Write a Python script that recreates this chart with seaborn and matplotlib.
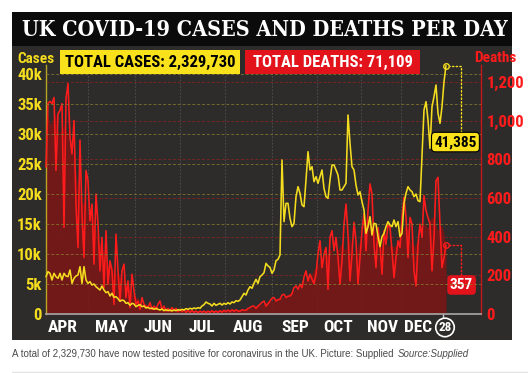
import numpy as np
import pandas as pd
import matplotlib
matplotlib.use("Agg")
import matplotlib.pyplot as plt
from matplotlib.patches import Rectangle
from matplotlib.lines import Line2D
import seaborn as sns

# ---------------- data (one value per ~2px step) ----------------
deaths = [
    760, 1090, 1100, 1088, 1120, 742, 1036, 1053, 1088, 448,
    1114, 1192, 915, 828, 1001, 569, 344, 900, 517, 292,
    742, 690, 482, 569, 258, 621, 465, 223, 396, 137,
    431, 154, 275, 223, 50, 413, 223, 67, 223, 258,
    85, 171, 33, 206, 119, 50, 67, 24, 85, 50,
    41, 33, 59, 24, 41, 24, 50, 67, 24, 41,
    15, 29, 15, 33, 19, 29, 12, 24, 12, 22,
    9, 19, 9, 19, 9, 15, 7, 15, 9, 15,
    7, 15, 9, 17, 9, 15, 9, 17, 10, 19,
    12, 21, 12, 22, 14, 22, 15, 15, 22, 19,
    19, 29, 33, 40, 41, 29, 41, 50, 60, 67,
    41, 53, 67, 81, 85, 67, 74, 76, 98, 102,
    85, 92, 93, 105, 136, 145, 128, 154, 136, 192,
    223, 171, 206, 180, 157, 206, 310, 379, 240, 310,
    344, 128, 396, 431, 327, 396, 292, 154, 275, 465,
    569, 413, 171, 310, 474, 379, 154, 292, 431, 517,
    327, 534, 673, 621, 361, 240, 448, 361, 206, 431,
    361, 465, 448, 327, 188, 292, 379, 344, 500, 604,
    500, 292, 500, 465, 223, 145, 361, 465, 396, 612,
    534, 500, 465, 223, 396, 690, 707, 465, 240, 292,
    357,
]
cases = [
    6222, 7054, 6778, 5667, 6778, 6222, 5944, 6778, 5667, 6778,
    6333, 6222, 7333, 5111, 5944, 6333, 6500, 7889, 5111, 7889,
    5667, 5111, 5389, 4833, 5000, 4555, 4278, 4000, 4667, 4000,
    3555, 3722, 3000, 3445, 2778, 2889, 2555, 2111, 2333, 2222,
    1778, 1889, 1444, 1778, 1667, 1222, 1444, 1555, 1222, 1333,
    1000, 1111, 889, 1000, 778, 944, 778, 667, 833, 555,
    722, 555, 667, 500, 667, 555, 722, 611, 778, 667,
    889, 778, 944, 833, 1000, 889, 1055, 944, 1333, 1555,
    2000, 1778, 1667, 1333, 1778, 1444, 1611, 1778, 1500, 1778,
    1611, 1889, 1667, 2000, 1889, 2222, 2111, 2333, 2889, 3445,
    3167, 4000, 4555, 4278, 5111, 5778, 5111, 6222, 6500, 6889,
    8445, 8000, 7778, 6778, 7333, 8889, 9111, 9833, 25667, 15389,
    18444, 18444, 15944, 14555, 15111, 19555, 21222, 20111, 18167, 17889,
    22333, 27055, 24000, 24555, 22055, 22889, 21778, 22889, 24000, 20944,
    19555, 19278, 22333, 24833, 24833, 24000, 23167, 20667, 20667, 21222,
    21778, 33167, 28444, 24555, 24000, 21500, 19833, 20389, 18722, 17333,
    13444, 14555, 16222, 13167, 15111, 15000, 12889, 11222, 12889, 13444,
    14555, 15389, 14833, 14555, 15667, 14555, 15389, 12889, 13444, 18444,
    20111, 21222, 20667, 20389, 19555, 20000, 18889, 18722, 26222, 34000,
    35389, 32333, 27611, 34555, 36222, 38167, 33445, 31778, 34555, 38722,
    41385,
]
month_labels = ["APR", "MAY", "JUN", "JUL", "AUG", "SEP", "OCT", "NOV", "DEC"]
month_pos = [8.5, 33, 56, 78, 101, 124.5, 146, 168.5, 186]
case_ticks = [0, 5000, 10000, 15000, 20000, 25000, 30000, 35000, 40000]
case_tick_labels = ["0", "5k", "10k", "15k", "20k", "25k", "30k", "35k", "40k"]
death_ticks = [0, 200, 400, 600, 800, 1000, 1200]
death_tick_labels = ["0", "200", "400", "600", "800", "1,000", "1,200"]
title = "UK COVID-19 CASES AND DEATHS PER DAY"
total_cases_text = "TOTAL CASES: 2,329,730"
total_deaths_text = "TOTAL DEATHS: 71,109"
last_day_label = "28"
caption = "A total of 2,329,730 have now tested positive for coronavirus in the UK. Picture: Supplied"
caption_source = "Source:Supplied"

# ---------------- style ----------------
sns.set_theme(style="ticks")
NARROW = ["Roboto Condensed", "Roboto", "DejaVu Sans"]
plt.rcParams["font.family"] = NARROW
YEL = "#f4dc1e"
YEL_BOX = "#f9e21b"
RED = "#ff1b1b"
RED_BOX = "#e3131b"
PANEL = "#2d2c2a"

W, H = 528, 373
fig = plt.figure(figsize=(W / 100, H / 100), dpi=100)
fig.patch.set_facecolor("white")

def fx(px):
    return px / W

def fy(py):
    return 1 - py / H

# dark panel + title bar
fig.add_artist(Rectangle((fx(12), fy(340)), fx(512) - fx(12), fy(46) - fy(340),
                         transform=fig.transFigure, fc=PANEL, ec="none", zorder=0))
fig.add_artist(Rectangle((fx(12), fy(46)), fx(512) - fx(12), fy(12) - fy(46),
                         transform=fig.transFigure, fc="#0b0b0b", ec="none", zorder=0))
fig.text(fx(265), fy(29.5), title, color="white", ha="center", va="center",
         fontsize=15.5, fontweight="bold", family=["DejaVu Serif"], fontstretch="condensed")

# axes: ax = deaths (right), ax2 = cases (left, drawn on top)
ax = fig.add_axes([fx(46), fy(314), fx(481) - fx(46), fy(65) - fy(314)])
ax.set_facecolor("none")
ax2 = ax.twinx()
ax2.set_facecolor("none")

idx = np.arange(len(deaths))
death_s = pd.Series(deaths, dtype=float)
smooth = death_s.rolling(7, center=True, min_periods=1).mean()

ax.fill_between(idx, 0, smooth, color="#7e1515", alpha=0.85, lw=0, zorder=1)
sns.lineplot(x=idx, y=deaths, ax=ax, color=RED, lw=1.15, zorder=3)
sns.lineplot(x=idx, y=cases, ax=ax2, color=YEL, lw=1.15, zorder=3)
for a in (ax, ax2):
    for ln in a.lines:
        ln.set_clip_on(False)

ax.set_xlim(0, 217.5)
ax.set_ylim(0, 1288)
ax2.set_ylim(0, 41500)

# ticks
ax.yaxis.tick_right()
ax2.yaxis.tick_left()
ax.set_yticks(death_ticks, death_tick_labels)
ax2.set_yticks(case_ticks, case_tick_labels)
ax.tick_params(axis="y", length=0, pad=4, labelsize=12, labelcolor=RED, right=True, left=False)
ax2.tick_params(axis="y", length=0, pad=3, labelsize=12, labelcolor=YEL, left=True, right=False)
for lab in ax.get_yticklabels() + ax2.get_yticklabels():
    lab.set_fontweight("bold")

ax.set_xticks(month_pos, month_labels)
ax.tick_params(axis="x", length=0, pad=4, labelsize=12.5, labelcolor="white")
for lab in ax.get_xticklabels():
    lab.set_fontweight("bold")
mids = [(a + b) / 2 for a, b in zip(month_pos[:-1], month_pos[1:])]
ax.set_xticks(mids, minor=True)
ax.tick_params(axis="x", which="minor", length=0)
ax.set_xlabel("")
ax.set_ylabel("")
ax2.set_ylabel("")

# grids
ax.grid(axis="y", color="#8a2222", ls=(0, (3, 2)), lw=0.7, alpha=0.8)
ax.grid(axis="x", which="minor", color="#6a6a6a", ls=(0, (2, 2)), lw=0.6, alpha=0.6)
ax.grid(axis="x", which="major", visible=False)
ax2.grid(axis="y", color="#8c7e2a", ls=(0, (3, 2)), lw=0.7, alpha=0.75)
ax.set_axisbelow(True)

# spines
for s in ax2.spines.values():
    s.set_visible(False)
ax.spines["top"].set_visible(False)
ax.spines["left"].set_color("#b7a526")
ax.spines["left"].set_linewidth(1.0)
ax.spines["right"].set_color("#c4161b")
ax.spines["right"].set_linewidth(1.0)
ax.spines["bottom"].set_color("#a8a8a8")
ax.spines["bottom"].set_linewidth(1.2)

# axis titles
fig.text(fx(36), fy(59), "Cases", color=YEL, ha="center", va="center",
         fontsize=11, fontweight="bold")
fig.text(fx(495), fy(58), "Deaths", color=RED, ha="center", va="center",
         fontsize=11, fontweight="bold")

# total boxes
fig.add_artist(Rectangle((fx(60), fy(74)), fx(240) - fx(60), fy(50) - fy(74),
                         transform=fig.transFigure, fc=YEL_BOX, ec="none", zorder=2))
fig.text(fx(150), fy(62), total_cases_text, color="black", ha="center", va="center",
         fontsize=12, fontweight="bold", zorder=3)
fig.add_artist(Rectangle((fx(245), fy(74)), fx(420) - fx(245), fy(50) - fy(74),
                         transform=fig.transFigure, fc=RED_BOX, ec="none", zorder=2))
fig.text(fx(332.5), fy(62), total_deaths_text, color="white", ha="center", va="center",
         fontsize=12, fontweight="bold", zorder=3)

# end-point annotations
li = idx[-1]
ax2.plot([li], [cases[-1]], "o", ms=4, mfc="none", mec=YEL, mew=1.0, clip_on=False, zorder=5)
ax.plot([li], [deaths[-1]], "o", ms=4, mfc="none", mec=RED, mew=1.0, clip_on=False, zorder=5)
ax2.annotate(f"{cases[-1]:,}", xy=(li, cases[-1]), xytext=(6.8, -55), textcoords="offset points",
             ha="center", va="center", fontsize=11, fontweight="bold", color="black",
             bbox=dict(boxstyle="round,pad=0.18,rounding_size=0.25", fc=YEL_BOX, ec="black", lw=0.8),
             arrowprops=dict(arrowstyle="-", ls=":", color=YEL, lw=1.0,
                             connectionstyle="angle,angleA=90,angleB=0,rad=0",
                             relpos=(0.63, 1.0), shrinkA=0, shrinkB=2.5),
             annotation_clip=False, zorder=6)
ax.annotate(f"{deaths[-1]:,}", xy=(li, deaths[-1]), xytext=(11.2, -28.8), textcoords="offset points",
            ha="center", va="center", fontsize=11, fontweight="bold", color="white",
            bbox=dict(boxstyle="round,pad=0.18,rounding_size=0.25", fc=RED_BOX, ec="none"),
            arrowprops=dict(arrowstyle="-", ls=":", color=RED, lw=1.0,
                            connectionstyle="angle,angleA=90,angleB=0,rad=0",
                            relpos=(0.48, 1.0), shrinkA=0, shrinkB=2.5),
            annotation_clip=False, zorder=6)

# last-day marker below the axis
xt = ax.get_xaxis_transform()
ax.plot([li - 1.5, li - 1.5], [0, -0.02], transform=xt, color="#cfcfcf", lw=1.0, clip_on=False)
ax.text(li - 0.5, -0.054, last_day_label, transform=xt, ha="center", va="center",
        color="white", fontsize=9.5, fontweight="bold",
        bbox=dict(boxstyle="circle,pad=0.2", fc=PANEL, ec="white", lw=1.2), clip_on=False)

# caption
t1 = fig.text(fx(12), fy(354), caption + " ", color="#4a4a4a", ha="left", va="center",
              fontsize=7.0, family=["Liberation Sans", "DejaVu Sans"])
ax.annotate(caption_source, xy=(1, 0.5), xycoords=t1, xytext=(1, 0), textcoords="offset points",
            ha="left", va="center", color="#4a4a4a", fontsize=7.0, style="italic",
            family=["Liberation Sans", "DejaVu Sans"], annotation_clip=False)
fig.add_artist(Line2D([fx(12), fx(528)], [fy(371.5), fy(371.5)], transform=fig.transFigure,
                      color="#e2e2e2", lw=1.0))

fig.savefig("out.png", dpi=100)
